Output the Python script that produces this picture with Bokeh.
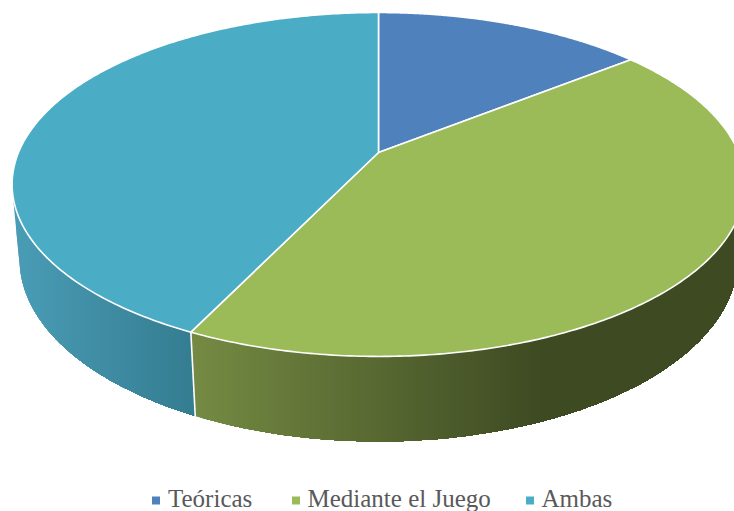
import numpy as np
from bokeh.plotting import figure
from bokeh.models import Range1d
from bokeh.core.properties import value
from bokeh.embed import file_html
from bokeh.resources import INLINE

categories = ["Teóricas", "Mediante el Juego", "Ambas"]
values = [1, 3, 3]
top_colors = ["#4F81BD", "#9BBB59", "#4BACC6"]

# Projection of the tilted disc to page pixels
CX, CY, A, B, K, M, C = 378, 152, 360, 166, 0.186, 0.02, 75

def project(theta, z=0.0):
    u, v = np.sin(theta), np.cos(theta)
    w = 1 + K * v + M * z
    return CX + A * u / w, CY + (-B * v + C * z) / w

def mix(c0, c1, t):
    t = min(max(t, 0), 1)
    c = [int(round(a + (b - a) * t)) for a, b in zip(c0, c1)]
    return "#%02x%02x%02x" % tuple(c)

def clip_left(poly, xa):
    """Keep the part of a polygon with x >= xa."""
    out = []
    for i in range(len(poly)):
        a, b = poly[i - 1], poly[i]
        ia, ib = a[0] >= xa, b[0] >= xa
        if ia != ib:
            t = (xa - a[0]) / (b[0] - a[0])
            out.append((xa, a[1] + t * (b[1] - a[1])))
        if ib:
            out.append(b)
    return out

side_ramps = {
    1: ((190, (0x75, 0x8b, 0x43)), (540, (0x3e, 0x4a, 0x22))),
    2: ((14, (0x4a, 0x9c, 0xb6)), (190, (0x35, 0x7d, 0x91))),
}

p = figure(width=734, height=511, output_backend="svg", toolbar_location=None,
           x_range=Range1d(0, 734), y_range=Range1d(511, 0), min_border=0,
           outline_line_color=None, background_fill_color="white")
p.axis.visible = False
p.grid.visible = False

fracs = np.cumsum([0] + values) / sum(values) * 2 * np.pi
spans = list(zip(fracs[:-1], fracs[1:]))

# Side wall, painted left to right in overlapping bands for a horizontal gradient
xs, ys, cols = [], [], []
for i, ramp in side_ramps.items():
    (x0, c0), (x1, c1) = ramp
    a0, a1 = spans[i]
    th = np.linspace(a0, a1, 260)
    tx, ty = project(th)
    bx, by = project(th, 1)
    nx, ny = project(th + 1e-3)
    facing = (nx - tx) * (by - ty) - (ny - ty) * (bx - tx) < 0
    tx, ty, bx, by = tx[facing], ty[facing], bx[facing], by[facing]
    wall = list(zip(np.r_[tx, bx[::-1]].tolist(), np.r_[ty, by[::-1]].tolist()))
    left = min(q[0] for q in wall)
    right = min(max(q[0] for q in wall), 734)
    last = None
    for xa in np.arange(np.floor(left), right, 4.0):
        col = mix(c0, c1, (xa + 2 - x0) / (x1 - x0))
        if col == last:
            continue
        last = col
        piece = clip_left(wall, xa) if xa > left else wall
        if len(piece) < 3:
            continue
        xs.append([q[0] for q in piece])
        ys.append([q[1] for q in piece])
        cols.append(col)
p.patches(xs, ys, fill_color=cols, line_color=None)

# White divider on the front wall
bx = project(spans[1][1])
by = project(spans[1][1], 1)
p.line([bx[0], by[0]], [bx[1], by[1]], line_color="white", line_width=1.6)

# Top faces
for (a0, a1), col in zip(spans, top_colors):
    th = np.linspace(a0, a1, 240)
    ex, ey = project(th)
    p.patch(np.r_[CX, ex], np.r_[CY, ey], fill_color=col,
            line_color="white", line_width=1.6, line_join="round")

# Legend
swatch_x = [155.5, 295.5, 529.5]
label_x = [167.5, 307, 541]
legend_y = 500
p.scatter(swatch_x, [legend_y] * 3, marker="square", size=8,
          fill_color=top_colors, line_color=None)
p.text(label_x, [498] * 3, text=categories, text_font=value("Liberation Serif"),
       text_font_size="25px", text_color="#595959", text_baseline="alphabetic",
       text_align="left")

open("out.html", "w").write(file_html(p, INLINE))
